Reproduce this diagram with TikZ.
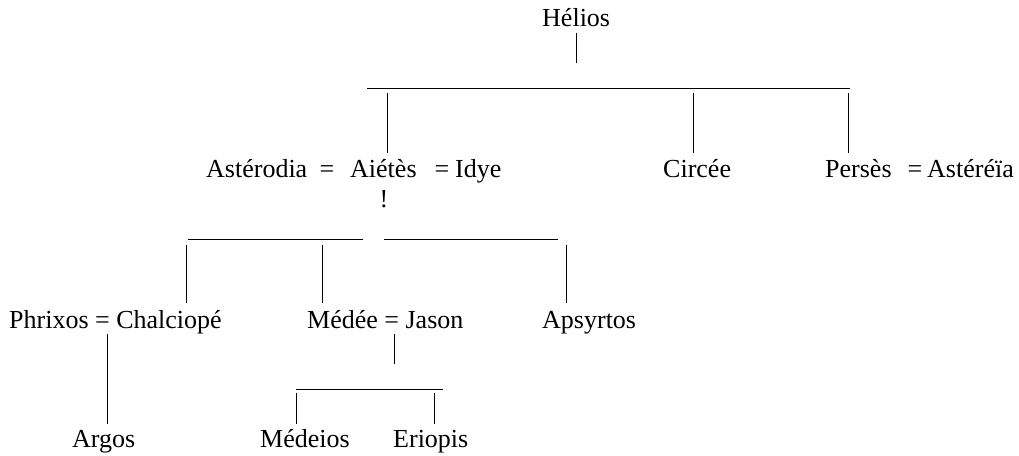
\documentclass[tikz,border=0pt]{standalone}
\usepackage{fontspec}
\setmainfont{Liberation Serif}
\newfontfamily\tnr{Liberation Serif}
\begin{document}
\begin{tikzpicture}[x=1pt,y=-1pt,
  person/.style={anchor=base west,inner sep=0pt,font=\tnr\fontsize{26}{30}\selectfont},
  sym/.style={anchor=base,inner sep=0pt,font=\tnr\fontsize{26}{30}\selectfont},
  link/.style={line width=0.9pt}]
\useasboundingbox (0,0) rectangle (1019,455);
% names
\node[person] (helios) at (542,27) {Hélios};
\node[person] (asterodia) at (206,177) {Astérodia};
\node[sym] (eq1) at (327,177) {=};
\node[person] (aietes) at (350,177) {Aiétès};
\node[sym] (eq2) at (442,177) {=};
\node[person] (idye) at (455,177) {Idye};
\node[sym] (excl) at (384,207) {!};
\node[person] (circee) at (663,177) {Circée};
\node[person] (perses) at (825,177) {Persès};
\node[sym] (eq3) at (915,177) {=};
\node[person] (astereia) at (927,177) {Astéréïa};
\node[person] (phrixos) at (9,328) {Phrixos = Chalciopé};
\node[person] (medee) at (307,328) {Médée = Jason};
\node[person] (apsyrtos) at (542,328) {Apsyrtos};
\node[person] (argos) at (72,447) {Argos};
\node[person] (medeios) at (260,447) {Médeios};
\node[person] (eriopis) at (393,447) {Eriopis};
% connector coordinates
\coordinate (h1) at (576,33); \coordinate (h2) at (576,63);
\coordinate (b1l) at (367,88); \coordinate (b1r) at (850,88);
\coordinate (a1) at (387,93); \coordinate (a2) at (387,153);
\coordinate (c1) at (693,93); \coordinate (c2) at (693,153);
\coordinate (p1) at (848,93); \coordinate (p2) at (848,153);
\coordinate (b2l) at (188,239); \coordinate (b2m) at (363,239);
\coordinate (b3l) at (384,239); \coordinate (b3r) at (558,239);
\coordinate (ch1) at (186,245); \coordinate (ch2) at (186,303);
\coordinate (me1) at (322,245); \coordinate (me2) at (322,303);
\coordinate (ap1) at (566,245); \coordinate (ap2) at (566,303);
\coordinate (ar1) at (107,334); \coordinate (ar2) at (107,424);
\coordinate (j1) at (394,334); \coordinate (j2) at (394,364);
\coordinate (b4l) at (296,389); \coordinate (b4r) at (443,389);
\coordinate (md1) at (296,393); \coordinate (md2) at (296,424);
\coordinate (er1) at (434,393); \coordinate (er2) at (434,424);
% connectors
\draw[link] (h1) -- (h2);
\draw[link] (b1l) -- (b1r);
\draw[link] (a1) -- (a2);
\draw[link] (c1) -- (c2);
\draw[link] (p1) -- (p2);
\draw[link] (b2l) -- (b2m);
\draw[link] (b3l) -- (b3r);
\draw[link] (ch1) -- (ch2);
\draw[link] (me1) -- (me2);
\draw[link] (ap1) -- (ap2);
\draw[link] (ar1) -- (ar2);
\draw[link] (j1) -- (j2);
\draw[link] (b4l) -- (b4r);
\draw[link] (md1) -- (md2);
\draw[link] (er1) -- (er2);
\end{tikzpicture}
\end{document}
